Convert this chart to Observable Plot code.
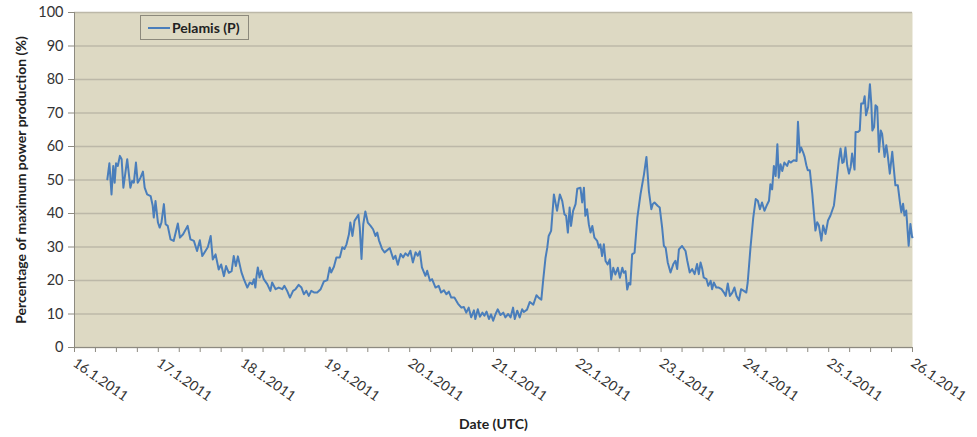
<!DOCTYPE html>
<html>
<head>
<meta charset="utf-8">
<script src="https://cdn.jsdelivr.net/npm/d3@7"></script>
<script src="https://cdn.jsdelivr.net/npm/@observablehq/plot@0.6"></script>
<style>
  html, body { margin: 0; padding: 0; background: #ffffff; }
  #chart { position: relative; width: 977px; height: 437px; font-family: Lato, "Open Sans", sans-serif; }
  #legend {
    position: absolute; left: 140px; top: 15px; width: 109px; height: 25px;
    border: 1px solid #8c897c; background: #ddd9c3; box-sizing: border-box;
    display: flex; align-items: center; font-weight: bold; font-size: 14px; color: #222;
  }
  #legend .swatch { display: inline-block; width: 22px; height: 2px; background: #4a7ebb; margin: 0 2px 0 7px; }
</style>
</head>
<body>
<div id="chart"></div>
<script>
// Hours after 16.1.2011 00:00 UTC
const hours = [
  9.4,10.0,10.6,11.1,11.5,11.9,12.4,13.0,13.5,14.0,15.1,16.0,16.5,17.0,17.6,18.1,18.9,19.6,20.1,20.8,
  21.8,22.4,22.7,23.2,23.9,24.4,24.9,25.6,26.1,26.7,27.5,28.4,29.6,30.2,31.1,32.4,33.2,34.2,35.1,35.9,
  36.6,37.5,38.2,39.0,39.6,40.4,41.3,42.0,42.8,43.4,44.2,45.0,45.6,46.2,46.8,47.8,48.5,49.5,50.2,50.9,
  51.4,51.8,52.1,52.5,53.0,53.5,54.2,55.2,56.1,56.6,57.6,58.5,59.5,60.1,60.9,61.7,62.6,63.3,64.2,65.0,
  65.7,66.4,67.1,67.8,68.7,69.5,70.5,71.4,72.4,73.1,73.5,74.3,75.0,76.0,76.7,77.3,77.9,78.6,79.0,79.6,
  80.2,80.8,81.3,81.7,82.2,82.7,83.3,84.0,84.8,85.5,86.2,86.7,87.2,88.1,88.8,90.3,91.3,91.9,92.6,93.4,
  94.1,94.8,95.5,96.2,96.9,97.7,98.3,98.9,99.5,100.5,101.0,101.8,102.4,103.4,104.3,105.0,105.8,106.5,107.2,107.9,
  108.8,109.8,110.8,111.5,112.2,112.9,113.6,114.4,114.8,115.5,116.1,116.8,117.4,118.0,118.7,119.3,119.9,120.6,121.2,122.0,
  122.8,123.4,124.2,124.9,125.6,126.1,126.8,127.5,128.2,128.7,129.6,130.4,131.4,132.3,133.0,133.7,134.2,134.9,135.4,135.8,
  136.5,137.3,138.2,139.0,139.7,140.3,140.8,141.3,141.8,142.2,142.8,143.5,144.0,144.9,145.4,145.9,146.3,146.8,147.3,147.8,
  148.3,148.9,149.7,150.2,150.6,151.1,151.6,152.1,152.7,153.3,153.7,154.3,154.9,155.6,156.2,156.9,157.3,157.8,158.3,158.8,
  159.2,159.7,160.4,161.2,162.1,163.1,163.8,164.5,165.2,165.6,166.1,167.0,167.6,168.3,168.8,169.3,169.9,170.7,171.5,172.1,
  172.6,173.1,174.0,175.0,175.5,176.2,176.9,177.6,178.3,178.8,179.3,179.8,180.2,181.0,181.5,182.2,182.6,183.1,183.8,184.5,
  185.3,186.0,186.5,187.1,187.7,188.4,189.0,189.6,190.3,190.9,191.7,192.4,192.8,193.6,194.4,195.1,195.7,196.3,196.9,197.6,
  198.2,198.9,199.3,199.8,200.3,200.8,201.3,201.7,202.2,202.7,203.3,204.1,204.6,205.1,206.0,206.8,207.2,207.7,208.1,208.7,
  209.1,209.6,210.0,210.6,211.3,211.7,212.2,212.7,213.2,213.9,214.4,215.1,215.8,216.5,217.5,218.3,218.9,219.4,219.9,220.3,
  220.8,221.3,221.8,222.3,222.7,223.4,223.7,224.3,224.9,225.3,225.9,226.3,226.7,227.3,227.8,228.2,228.5,229.0,229.4,229.9,
  230.4,230.9,231.3,232.0,232.5,232.9,233.5,234.2,234.6,235.1,235.8,236.4,236.8,237.3,237.7,238.2,238.9,239.4,239.9,240.0
];
// Percentage of maximum power production (%), Pelamis (P)
const values = [
  50.2,55.0,45.7,54.2,49.2,55.0,54.2,57.2,56.2,47.7,56.2,47.7,49.7,49.2,55.2,49.2,50.7,52.5,47.7,45.7,
  45.2,42.3,38.8,43.7,37.3,35.8,37.3,42.8,36.8,36.3,32.3,31.8,37.0,32.8,33.8,36.3,32.3,31.8,28.8,32.0,
  27.3,28.8,30.0,33.3,26.3,27.8,23.3,24.8,21.3,24.3,22.3,22.8,27.3,24.3,27.2,22.5,20.4,17.9,19.4,18.9,
  20.4,17.9,21.1,23.9,20.9,22.9,20.4,18.9,16.9,19.4,17.4,17.9,17.4,18.4,16.9,14.9,16.9,17.4,18.7,17.9,
  15.9,16.9,15.4,16.9,16.4,16.4,17.4,19.7,20.1,23.9,22.4,24.1,26.9,26.9,29.9,29.4,30.8,33.8,37.3,33.3,
  37.8,38.8,39.6,35.8,26.4,36.8,40.6,37.3,36.3,35.3,33.3,34.3,32.0,29.4,28.4,29.7,26.4,27.4,24.7,27.9,
  26.9,28.1,27.4,28.9,25.4,28.4,27.4,28.7,23.9,21.4,22.9,19.9,20.4,17.9,18.4,16.4,17.1,15.9,16.7,14.9,
  14.9,13.1,11.9,12.1,10.4,11.9,9.0,11.1,8.5,11.4,9.2,10.4,9.5,10.7,8.5,9.9,8.0,10.0,11.4,9.7,
  10.4,9.0,10.0,9.0,11.9,8.5,11.0,9.0,11.4,10.6,11.3,13.6,12.8,15.6,14.8,14.3,19.8,26.8,29.8,33.3,
  34.8,45.7,40.8,45.7,43.7,39.8,39.3,34.3,41.8,36.3,40.8,42.8,47.4,47.7,43.3,47.7,39.3,41.3,36.8,34.3,
  36.3,32.8,31.8,29.8,30.8,27.3,30.8,25.8,24.8,26.3,20.3,23.8,21.8,23.8,20.8,23.8,22.3,22.8,17.3,19.3,
  18.8,27.8,28.3,38.8,45.7,51.7,56.9,46.7,41.3,42.8,43.3,42.3,41.8,35.8,30.3,29.8,25.4,22.4,24.9,25.9,
  23.4,29.3,30.3,28.8,25.9,22.4,23.4,21.9,24.9,21.9,25.4,23.4,20.9,20.4,18.4,19.9,17.4,19.4,17.9,17.9,
  17.4,16.4,15.4,19.1,15.4,16.4,17.9,15.4,14.1,17.4,16.9,16.4,19.4,29.8,38.8,44.3,43.8,41.3,43.3,40.8,
  42.3,43.8,48.7,47.2,54.2,51.2,60.7,50.7,54.7,52.7,55.2,54.2,55.7,55.2,55.9,55.7,67.4,58.2,59.7,58.2,
  56.9,54.4,52.9,52.9,45.9,40.9,34.9,37.4,36.4,31.9,36.4,33.9,37.9,39.4,42.4,49.9,55.9,59.4,55.1,55.4,
  59.7,54.4,51.9,53.9,57.9,53.1,64.3,64.3,64.8,72.8,72.8,75.0,69.3,71.8,78.6,72.8,64.8,65.8,72.3,71.8,
  58.4,64.8,63.8,56.9,60.4,57.4,51.9,58.4,53.9,48.4,48.4,43.4,40.4,42.9,39.4,40.9,30.4,36.9,32.9,32.9
];
const dayLabels = ["16.1.2011","17.1.2011","18.1.2011","19.1.2011","20.1.2011","21.1.2011",
                   "22.1.2011","23.1.2011","24.1.2011","25.1.2011","26.1.2011"];
const yTicks = [0,10,20,30,40,50,60,70,80,90,100];
const seriesName = "Pelamis (P)";
const yTitle = "Percentage of maximum power production (%)";
const xTitle = "Date (UTC)";

const parseDay = d3.utcParse("%d.%m.%Y");
const dayDates = dayLabels.map(parseDay);
const labelOf = new Map(dayDates.map((d, i) => [+d, dayLabels[i]]));
const start = dayDates[0];
const data = hours.map((h, i) => ({date: d3.utcMinute.offset(start, Math.round(h * 60)), value: values[i]}));
const sixHourTicks = d3.utcHour.every(6).range(dayDates[0], d3.utcHour.offset(dayDates[dayDates.length - 1], 1));

const axisColor = "#8d8a80";
const chart = Plot.plot({
  width: 977,
  height: 437,
  marginLeft: 74,
  marginRight: 65,
  marginTop: 12,
  marginBottom: 90,
  style: {fontFamily: "Lato, 'Open Sans', sans-serif", fontSize: "14px", color: "#333333", background: "#ffffff", overflow: "visible"},
  x: {type: "utc", domain: [dayDates[0], dayDates[dayDates.length - 1]]},
  y: {domain: [0, 100]},
  marks: [
    Plot.frame({fill: "#ddd9c3", stroke: null}),
    Plot.gridY(yTicks, {stroke: "#bcb8a8", strokeOpacity: 1, strokeWidth: 1.5}),
    Plot.ruleX([dayDates[0]], {stroke: axisColor, strokeWidth: 1}),
    Plot.ruleY([0], {stroke: axisColor, strokeWidth: 1}),
    Plot.axisY(yTicks, {tickSize: 6, tickPadding: 5, stroke: axisColor, label: null, fontSize: 14.5}),
    Plot.axisX(sixHourTicks, {tickSize: 5, stroke: axisColor, tickFormat: () => "", label: null}),
    Plot.axisX(dayDates, {tickSize: 0, tickPadding: 14, tickRotate: 35, tickFormat: d => labelOf.get(+d), label: null, fontSize: 14}),
    Plot.line(data, {x: "date", y: "value", stroke: "#4a7ebb", strokeWidth: 2, curve: "linear"}),
    Plot.text([yTitle], {frameAnchor: "left", dx: -53, rotate: -90, textAnchor: "middle", fontWeight: "bold", fontSize: 14, fill: "#222"}),
    Plot.text([xTitle], {frameAnchor: "bottom", dy: 81, fontWeight: "bold", fontSize: 14, fill: "#222"})
  ]
});
const host = document.getElementById("chart");
host.appendChild(chart);
const legend = document.createElement("div");
legend.id = "legend";
legend.innerHTML = `<span class="swatch"></span><span>${seriesName}</span>`;
host.appendChild(legend);
</script>
</body>
</html>
